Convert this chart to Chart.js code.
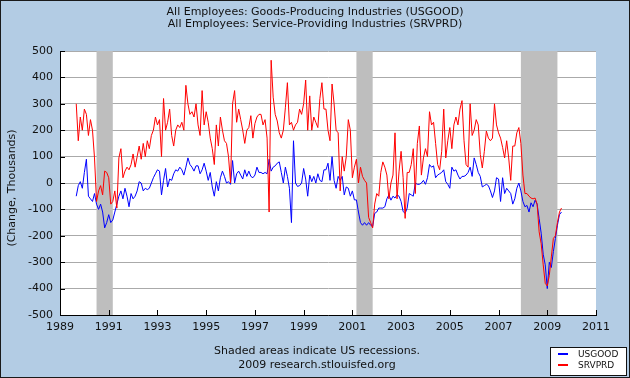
<!DOCTYPE html>
<html>
<head>
<meta charset="utf-8">
<script src="https://cdn.jsdelivr.net/npm/chart.js@4/dist/chart.umd.min.js"></script>
<style>
html,body{margin:0;padding:0;background:#b3cce4;}
#wrap{position:relative;width:630px;height:378px;overflow:hidden;background:#b3cce4;font-family:"DejaVu Sans",Verdana,sans-serif;color:#111;}
#c{position:absolute;left:0;top:0;}
.txt{position:absolute;white-space:nowrap;}
#title{left:0;top:5.5px;width:630px;text-align:center;font-size:11px;line-height:12.5px;}
#foot{left:2px;top:343.5px;width:630px;text-align:center;font-size:11px;line-height:14.7px;}
#ytitle{left:-88px;top:181px;width:200px;height:14px;line-height:14px;font-size:11px;text-align:center;transform:rotate(-90deg);transform-origin:50% 50%;}
#legend{position:absolute;left:550px;top:347px;width:75px;height:27px;background:#fff;border:1px solid #111;}
.lg{position:absolute;left:7px;width:10px;height:2px;}
.lt{position:absolute;left:27px;font-size:9px;line-height:10px;}
#frame{position:absolute;left:0;top:0;width:630px;height:378px;box-sizing:border-box;border:1px solid #1a1a1a;pointer-events:none;}
</style>
</head>
<body>
<div id="wrap">
<canvas id="c" width="630" height="378"></canvas>
<div class="txt" id="title">All Employees: Goods-Producing Industries (USGOOD)<br>All Employees: Service-Providing Industries (SRVPRD)</div>
<div class="txt" id="ytitle">(Change, Thousands)</div>
<div class="txt" id="foot">Shaded areas indicate US recessions.<br>2009 research.stlouisfed.org</div>
<div id="legend">
  <div class="lg" style="top:5px;background:#0000ff"></div><div class="txt lt" style="top:1px">USGOOD</div>
  <div class="lg" style="top:16px;background:#ff0000"></div><div class="txt lt" style="top:12px">SRVPRD</div>
</div>
<div id="frame"></div>
</div>
<script>
// ---- data (monthly change, thousands), first month Sep 1989 ----
const firstYear = 1989;
const firstMonth = 9;

const usgood = [
  -50,-10,5,-20,40,90,-50,-60,-70,-40,
  -80,-100,-80,-110,-170,-150,-120,-150,-140,-110,
  -80,-50,-30,-60,-20,-50,-90,-40,-60,-50,
  -30,5,0,-30,-20,-25,-20,0,20,35,
  50,45,-45,10,55,-15,15,10,35,50,
  45,60,50,30,60,95,70,60,45,65,
  65,35,50,75,45,10,40,-15,-50,5,
  -30,20,45,25,0,5,-5,85,0,35,
  45,30,15,50,25,45,25,20,30,60,
  40,40,35,40,35,90,45,60,65,75,
  80,40,0,60,25,-20,-150,160,0,-13,
  -10,0,55,15,-50,30,5,25,0,35,
  10,5,50,50,75,10,100,10,-20,25,
  10,25,-45,-15,-20,-50,-30,-64,-64,-110,
  -150,-160,-150,-160,-150,-160,-165,-115,-110,-95,
  -95,-95,-90,-60,-45,-65,-50,-57,-45,-50,
  -70,-108,-115,-95,-40,-45,-50,0,-5,-5,
  0,10,-5,20,70,60,65,20,30,35,
  40,50,5,-5,-20,60,45,50,30,15,
  25,25,30,40,60,25,95,70,40,25,
  -15,-10,-5,-10,-30,-55,-30,20,15,-70,
  20,-40,-20,-30,-40,-80,-60,-20,0,-30,
  -70,-90,-85,-110,-75,-90,-65,-80,-135,-190,
  -270,-310,-400,-300,-320,-260,-210,-160,-120,-110
];

const srvprd = [
  300,160,250,200,280,260,180,240,200,95,
  -70,-30,-10,-45,45,40,20,-80,-70,-30,
  -95,95,130,20,45,60,50,70,110,60,
  100,140,90,150,100,160,130,180,200,250,
  220,240,100,320,200,230,280,180,140,200,
  220,210,230,200,370,300,260,270,250,300,
  220,180,350,220,270,230,170,130,70,220,
  140,250,200,160,150,100,0,300,350,230,
  280,240,200,150,200,210,255,170,225,250,
  260,260,220,240,170,-110,465,325,260,235,
  190,170,200,285,380,220,230,200,220,230,
  280,260,300,390,200,330,200,250,230,210,
  320,380,280,280,200,160,375,300,200,190,
  -30,100,45,100,240,200,20,60,90,0,
  60,25,10,0,-130,-150,-170,-80,-40,-50,
  40,80,60,30,-60,0,30,190,-60,45,
  120,20,-134,40,40,70,130,-40,150,216,
  30,95,130,100,270,220,230,150,70,50,
  120,280,95,160,210,130,220,250,220,280,
  312,160,70,60,300,180,200,240,220,108,
  57,120,197,170,160,170,300,220,190,170,
  135,95,160,95,10,140,140,190,210,150,
  30,-40,-40,-50,-57,-60,-57,-80,-185,-230,
  -310,-380,-390,-350,-280,-210,-200,-150,-110,-95
];

const recessions = [['1990-07','1991-03'], ['2001-03','2001-11'], ['2007-12','2009-06']];
const xTickLabels = [1989,1991,1993,1995,1997,1999,2001,2003,2005,2007,2009,2011];
const yTickLabels = [-500,-400,-300,-200,-100,0,100,200,300,400,500];

// ---- helpers ----
const monthToYear = i => firstYear + (firstMonth - 1 + i) / 12;
const ymToYear = s => { const [y, m] = s.split('-').map(Number); return y + (m - 1) / 12; };
const toPoints = arr => arr.map((v, i) => ({x: monthToYear(i), y: v}));

const BG = '#b3cce4';

const decor = {
  id: 'decor',
  beforeDraw(chart) {
    const {ctx, chartArea: a} = chart;
    ctx.save();
    ctx.fillStyle = BG;
    ctx.fillRect(0, 0, chart.width, chart.height);
    ctx.fillStyle = '#ffffff';
    ctx.fillRect(a.left, a.top, a.right - a.left, a.bottom - a.top);
    ctx.restore();
  },
  beforeDatasetsDraw(chart) {
    const {ctx, chartArea: a, scales: {x, y}} = chart;
    ctx.save();
    ctx.fillStyle = '#bebebe';
    recessions.forEach(([s, e]) => {
      const x0 = x.getPixelForValue(ymToYear(s));
      const x1 = x.getPixelForValue(ymToYear(e));
      ctx.fillRect(x0, a.top, x1 - x0, a.bottom - a.top);
    });
    // inward tick marks
    ctx.strokeStyle = '#000';
    ctx.lineWidth = 1;
    ctx.beginPath();
    yTickLabels.forEach(v => {
      const py = Math.round(y.getPixelForValue(v)) + 0.5;
      ctx.moveTo(a.left, py); ctx.lineTo(a.left + 5, py);
    });
    xTickLabels.forEach(v => {
      const px = Math.round(x.getPixelForValue(v)) + 0.5;
      ctx.moveTo(px, a.bottom); ctx.lineTo(px, a.bottom - 5);
    });
    ctx.stroke();
    ctx.restore();
  }
};

const tickFont = {family: '"DejaVu Sans", Verdana, sans-serif', size: 11};

new Chart(document.getElementById('c'), {
  type: 'line',
  data: {
    datasets: [
      {label: 'USGOOD', data: toPoints(usgood), borderColor: '#0000ff', borderWidth: 1, pointRadius: 0, tension: 0, fill: false, order: 1},
      {label: 'SRVPRD', data: toPoints(srvprd), borderColor: '#ff0000', borderWidth: 1, pointRadius: 0, tension: 0, fill: false, order: 0}
    ]
  },
  options: {
    responsive: false,
    animation: false,
    devicePixelRatio: 1,
    layout: {padding: {left: 0, right: 34, top: 51, bottom: 41}},
    plugins: {legend: {display: false}, tooltip: {enabled: false}, title: {display: false}},
    scales: {
      x: {
        type: 'linear', min: xTickLabels[0], max: xTickLabels[xTickLabels.length - 1],
        afterBuildTicks: s => { s.ticks = xTickLabels.map(v => ({value: v})); },
        afterFit: s => { s.height = 22; },
        ticks: {callback: v => String(v), font: tickFont, color: '#111', padding: 6, maxRotation: 0, autoSkip: false},
        grid: {display: false, drawTicks: false},
        border: {display: true, color: '#000', width: 1}
      },
      y: {
        min: yTickLabels[0], max: yTickLabels[yTickLabels.length - 1],
        afterBuildTicks: s => { s.ticks = yTickLabels.map(v => ({value: v})); },
        afterFit: s => { s.width = 60; },
        ticks: {callback: v => String(v), font: tickFont, color: '#111', padding: 7, autoSkip: false},
        grid: {color: '#aaaaaa', lineWidth: 1, drawTicks: false},
        border: {display: true, color: '#000', width: 1}
      }
    }
  },
  plugins: [decor]
});
</script>
</body>
</html>
